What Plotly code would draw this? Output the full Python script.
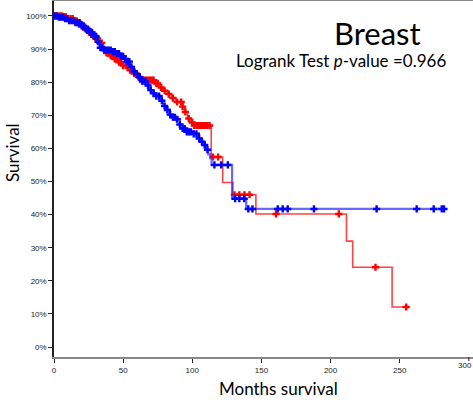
import plotly.graph_objects as go

# Kaplan-Meier step knots (months, survival %)
red_times = [0, 6, 10, 14, 17, 20, 23, 26, 29, 32, 35, 37, 40, 43, 46, 50, 54, 57, 60, 63,
             73, 76, 79, 82, 85, 88, 93, 94.5, 96.5, 99, 101, 113.7, 122, 129.3, 146,
             211.5, 216, 244.5, 254.7]
red_surv = [100, 99.8, 99.2, 98.5, 97.5, 96.6, 95.6, 94.4, 93.2, 91.8, 90.0, 88.8, 88.0, 87.0,
            86.0, 85.0, 83.6, 82.6, 81.6, 80.6, 79.6, 78.4, 77.4, 76.4, 75.2, 74.0, 72.6,
            71.0, 69.0, 67.8, 66.9, 57.4, 49.7, 46.0, 40.2, 32.0, 24.1, 12.1, 12.1]

blue_times = [0, 3, 7, 11, 15, 19, 22, 25, 28, 31, 33.5, 36, 42, 45, 48, 51, 53, 55, 57, 59,
              61, 64, 67, 69, 72, 74, 77, 79, 81, 83.5, 86, 88.5, 91, 93, 95.5, 100, 104,
              106, 108, 110, 111.5, 113, 114, 128.8, 139, 282]
blue_surv = [100, 99.6, 99.2, 98.6, 98.0, 97.0, 96.0, 95.0, 93.8, 92.2, 90.4, 89.7, 89.2,
             88.6, 87.8, 87.0, 86.2, 84.6, 83.2, 82.4, 81.4, 80.2, 79.0, 77.6, 76.6, 75.8,
             74.4, 72.8, 71.6, 70.2, 69.4, 68.8, 67.2, 66.0, 65.0, 64.4, 63.0, 62.0, 61.0,
             59.6, 58.2, 57.0, 55.0, 44.8, 41.7, 41.7]

red_censor = [1, 2.5, 4, 5.5, 7, 8.5, 10, 12, 13.5, 15, 16.5, 18, 19.5, 21, 22.5, 24, 25.5,
              27, 28.5, 30, 31.5, 33, 34.5, 36, 38, 39.5, 41, 42.5, 44, 45.5, 47, 48.5, 50,
              52, 53.5, 55, 56.5, 58, 59.5, 61, 62, 63.5, 65, 66.5, 68, 69.5, 71, 72, 74,
              75, 77.5, 80, 83, 86, 89, 92, 93, 95, 97.5, 100, 101.5, 103, 104, 105, 106,
              107, 108, 109, 110, 111, 112.5, 115, 118.7, 130.5, 134, 137.7, 141.4, 160.6,
              206, 232.5, 254.7]
blue_censor = [0.5, 2, 3.5, 5, 6.5, 8, 9.5, 11, 12.5, 14, 15.5, 17, 18.5, 20, 21.5, 23,
               24.5, 26, 27.5, 29, 30.5, 32, 33.5, 35, 36.5, 38, 39.5, 41, 42.5, 44, 45.5,
               47, 48.5, 50, 51.5, 53, 54.5, 56, 58, 60, 62, 64, 66, 68, 70, 72, 74, 76, 78,
               80, 82, 84, 86, 87.5, 89, 91, 93, 94.5, 96, 97.5, 99, 101, 103, 105, 107,
               109, 111, 116, 120.9, 125.7, 131, 134, 137.5, 140.5, 143.5, 161.8, 165.4,
               169, 188, 233.3, 262.3, 274.6, 280.4, 282]

x_ticks = [0, 50, 100, 150, 200, 250, 300]
y_ticks = [0, 10, 20, 30, 40, 50, 60, 70, 80, 90, 100]
y_labels = [f"{v}%" for v in y_ticks]


def surv_at(times, survs, t):
    s = survs[0]
    for tt, ss in zip(times, survs):
        if tt <= t:
            s = ss
        else:
            break
    return s


fig = go.Figure()
for times, survs, cens, lcol, mcol, lw in [
    (red_times, red_surv, red_censor, "rgba(255,20,20,0.8)", "#ff0000", 1.6),
    (blue_times, blue_surv, blue_censor, "rgba(40,40,255,0.7)", "#0000ff", 2.2),
]:
    fig.add_trace(go.Scatter(x=times, y=survs, mode="lines", line=dict(color=lcol, width=lw, shape="hv"),
                             hoverinfo="skip", showlegend=False))
    fig.add_trace(go.Scatter(x=cens, y=[surv_at(times, survs, t) for t in cens], mode="markers",
                             marker=dict(symbol="cross", size=6, color=mcol, line=dict(width=0)),
                             showlegend=False))

W, H, L, B, T = 473, 402, 54, 45, 1
pw, ph = W - L, H - B - T


def px(x):
    return (x - L) / pw


def py(y_from_top):
    return (H - y_from_top - B) / ph


fig.update_layout(
    width=W, height=H,
    margin=dict(l=L, r=0, t=T, b=B),
    paper_bgcolor="white", plot_bgcolor="white",
    font=dict(family="Liberation Sans, Arial", size=8, color="#222"),
    xaxis=dict(range=[0, 303], tickvals=x_ticks[:-1], ticks="outside", ticklen=4, tickwidth=1,
               tickcolor="#222", showline=True, linecolor="#888", linewidth=2, mirror=True,
               showgrid=False, zeroline=False, tickfont=dict(size=8)),
    yaxis=dict(range=[-3.0, 104.5], tickvals=y_ticks, ticktext=y_labels, ticks="outside",
               ticklen=4, tickwidth=1, tickcolor="#222", showline=True, linecolor="#222",
               linewidth=1.5, showgrid=False, zeroline=False, tickfont=dict(size=8)),
    annotations=[
        dict(text="Breast", x=px(377), y=py(33), xref="paper", yref="paper", showarrow=False,
             font=dict(family="Lato", size=31, color="black"), xanchor="center", yanchor="middle"),
        dict(text="Logrank Test <i>p</i>-value =0.966", x=px(341), y=py(60), xref="paper", yref="paper",
             showarrow=False, font=dict(family="Lato", size=17, color="black"),
             xanchor="center", yanchor="middle"),
        dict(text="Survival", x=px(12), y=py(153), xref="paper", yref="paper", textangle=-90,
             showarrow=False, font=dict(family="Lato", size=17, color="black"),
             xanchor="center", yanchor="middle"),
        dict(text="Months survival", x=px(278), y=py(401), xref="paper", yref="paper",
             showarrow=False, font=dict(family="Lato", size=17, color="black"),
             xanchor="center", yanchor="bottom"),
        dict(text=str(x_ticks[-1]), x=px(473), y=py(360), xref="paper", yref="paper",
             showarrow=False, font=dict(family="Liberation Sans, Arial", size=8, color="#222"),
             xanchor="right", yanchor="top", borderpad=0),
    ],
    shapes=[dict(type="line", xref="x", yref="paper", x0=x_ticks[-1], x1=x_ticks[-1],
                 y0=0, y1=py(361), line=dict(color="#222", width=1))],
)

fig.write_html("out.html")
